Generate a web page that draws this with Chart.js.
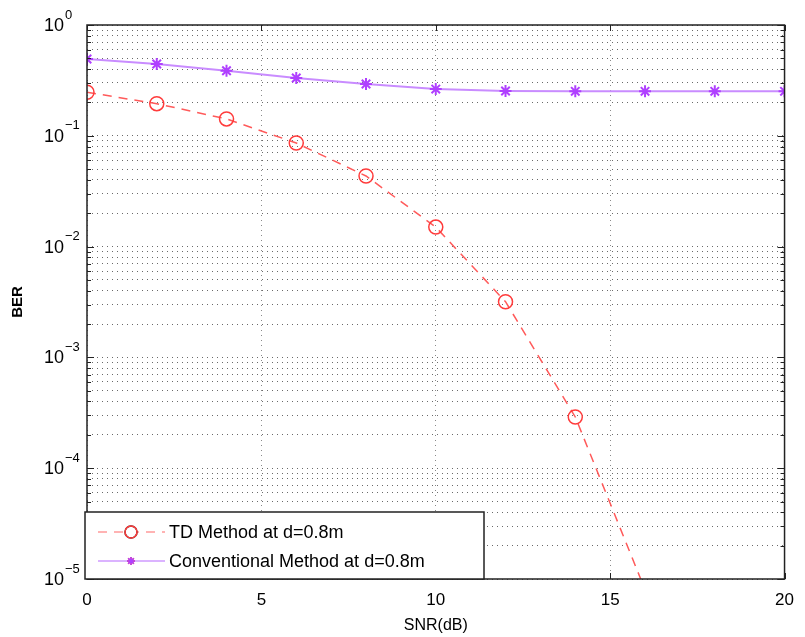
<!DOCTYPE html>
<html>
<head>
<meta charset="utf-8">
<script src="https://cdn.jsdelivr.net/npm/chart.js@4"></script>
<style>
  body { margin: 0; background: #fff; }
  #wrap { width: 805px; height: 637px; position: relative; }
</style>
</head>
<body>
<div id="wrap"><canvas id="myChart"></canvas></div>
<script>
// values
const snr = [0, 2, 4, 6, 8, 10, 12, 14, 16, 18, 20];
const berTD = [0.247, 0.195, 0.142, 0.0861, 0.0434, 0.0150, 0.00318, 0.00029, 0.000008, null, null];
const berConv = [0.493, 0.445, 0.387, 0.332, 0.293, 0.264, 0.254, 0.252, 0.252, 0.252, 0.252];
const seriesNames = ['TD Method at d=0.8m', 'Conventional Method at d=0.8m'];
const xTicks = [0, 5, 10, 15, 20];
const yDecades = [-5, -4, -3, -2, -1, 0];

const FONT = '"Liberation Sans", Arial, sans-serif';

// 1..9 x 10^k ticks for the log axis
let yTickValues = [];
yDecades.forEach(function (e) {
  if (e === 0) { yTickValues.push(1); return; }
  for (let m = 1; m <= 9; m++) yTickValues.push(+(m * Math.pow(10, e)).toPrecision(3));
});

function pairs(ys) {
  return snr.map((x, i) => ({ x: x, y: ys[i] }));
}

const frame = {
  id: 'frame',
  afterDraw(chart) {
    const ctx = chart.ctx;
    const a = chart.chartArea;
    const xs = chart.scales.x, ys = chart.scales.y;
    ctx.save();
    ctx.strokeStyle = '#222';
    ctx.lineWidth = 1.5;
    ctx.strokeRect(a.left, a.top, a.right - a.left, a.bottom - a.top);

    // inside ticks
    ctx.lineWidth = 1;
    ctx.beginPath();
    yTickValues.forEach(function (v) {
      const py = Math.round(ys.getPixelForValue(v)) + 0.5;
      const major = Math.abs(Math.log10(v) - Math.round(Math.log10(v))) < 1e-9;
      const len = major ? 7 : 4;
      ctx.moveTo(a.left, py); ctx.lineTo(a.left + len, py);
      ctx.moveTo(a.right, py); ctx.lineTo(a.right - len, py);
    });
    xTicks.forEach(function (v) {
      const px = Math.round(xs.getPixelForValue(v)) + 0.5;
      ctx.moveTo(px, a.bottom); ctx.lineTo(px, a.bottom - 6);
      ctx.moveTo(px, a.top); ctx.lineTo(px, a.top + 6);
    });
    ctx.stroke();

    // y labels 10^k
    ctx.fillStyle = '#000';
    ctx.textBaseline = 'middle';
    yDecades.forEach(function (e) {
      const py = ys.getPixelForValue(Math.pow(10, e));
      ctx.font = '18px ' + FONT;
      ctx.textAlign = 'right';
      ctx.fillText('10', 64, py + 1);
      ctx.font = '13px ' + FONT;
      ctx.textAlign = 'left';
      ctx.fillText(e === 0 ? '0' : '\u2212' + Math.abs(e), 65, py - 10);
    });

    // legend box in the lower left corner
    const bx = 85, by = 512, bw = 399, bh = 67;
    ctx.fillStyle = '#fff';
    ctx.fillRect(bx, by, bw, bh);
    ctx.strokeStyle = '#222';
    ctx.lineWidth = 1.5;
    ctx.strokeRect(bx, by, bw, bh);
    const rows = [532, 561];
    chart.data.datasets.forEach(function (ds, i) {
      const y = rows[i];
      ctx.save();
      ctx.strokeStyle = ds.legendLine;
      ctx.lineWidth = 2;
      ctx.setLineDash(ds.borderDash || []);
      ctx.beginPath();
      ctx.moveTo(98, y); ctx.lineTo(165, y);
      ctx.stroke();
      ctx.restore();
      Chart.helpers.drawPoint(ctx, {
        pointStyle: ds.pointStyle, radius: i === 0 ? 6 : 4, borderWidth: 1.5, rotation: 0
      }, 131, y);
      ctx.strokeStyle = ds.pointBorderColor;
      ctx.lineWidth = 1.5;
      ctx.stroke();
      ctx.fillStyle = '#000';
      ctx.font = '18px ' + FONT;
      ctx.textAlign = 'left';
      ctx.textBaseline = 'middle';
      ctx.fillText(ds.label, 169, y + 1);
    });
    ctx.restore();
  }
};

const configuration = {
  type: 'line',
  data: {
    datasets: [
      {
        label: seriesNames[0],
        data: pairs(berTD),
        borderColor: '#ff5a5a',
        borderWidth: 1.5,
        borderDash: [9, 7],
        pointStyle: 'circle',
        pointRadius: 7,
        pointBorderWidth: 1.5,
        pointBorderColor: '#ff3b3b',
        pointBackgroundColor: 'rgba(0,0,0,0)',
        legendLine: '#ffb3b3',
        spanGaps: false
      },
      {
        label: seriesNames[1],
        data: pairs(berConv),
        borderColor: '#c98cff',
        borderWidth: 2,
        pointStyle: 'star',
        pointRadius: 6,
        pointBorderWidth: 2,
        pointBorderColor: '#b040ff',
        pointBackgroundColor: '#b040ff',
        legendLine: '#dbb3ff'
      }
    ]
  },
  options: {
    responsive: true,
    maintainAspectRatio: false,
    animation: false,
    layout: { padding: { top: 25, right: 12, left: 0, bottom: 0 } },
    plugins: { legend: { display: false }, tooltip: { enabled: false } },
    scales: {
      x: {
        type: 'linear',
        min: 0, max: 20,
        afterBuildTicks: s => { s.ticks = xTicks.map(v => ({ value: v })); },
        afterFit: s => { s.height = 58; },
        grid: { color: '#8a8a8a', drawTicks: false, lineWidth: 1 },
        border: { display: false, dash: [1, 4] },
        ticks: { padding: 11, color: '#000', font: { family: FONT, size: 17 }, maxRotation: 0 },
        title: { display: true, text: 'SNR(dB)', color: '#000', font: { family: FONT, size: 16 }, padding: { top: 0, bottom: 2 } }
      },
      y: {
        type: 'logarithmic',
        min: 1e-5, max: 1,
        afterBuildTicks: s => { s.ticks = yTickValues.map(v => ({ value: v })); },
        afterFit: s => { s.width = 87; },
        grid: { color: '#6a6a6a', drawTicks: false, lineWidth: 1 },
        border: { display: false, dash: [1, 4] },
        ticks: { display: false },
        title: { display: true, text: 'BER', color: '#000', font: { family: FONT, size: 15, weight: 'bold' }, padding: { top: 9, bottom: 0 } }
      }
    }
  },
  plugins: [frame]
};

const ctx = document.getElementById('myChart').getContext('2d');
const myChart = new Chart(ctx, configuration);
</script>
</body>
</html>
